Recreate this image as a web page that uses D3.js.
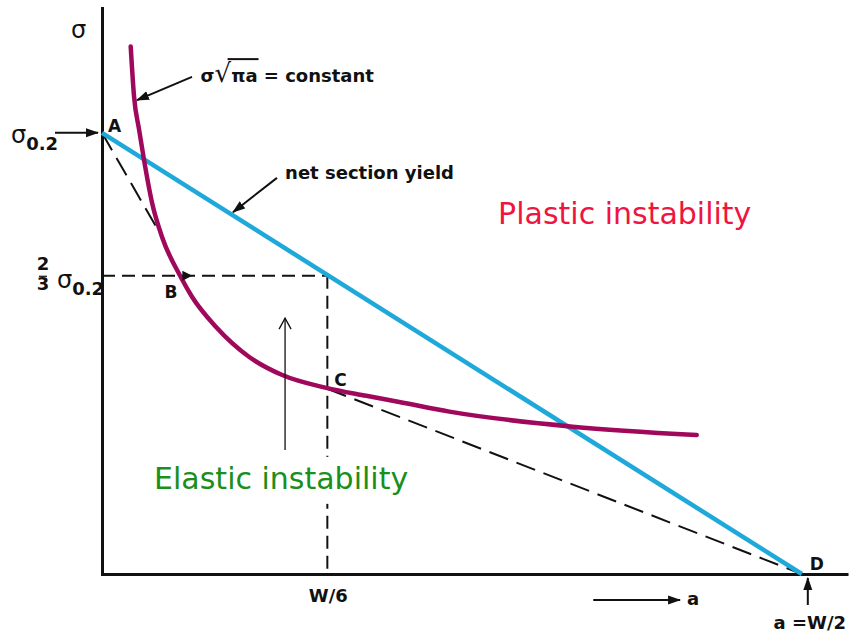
<!DOCTYPE html>
<meta charset="utf-8">
<title>Fracture stress vs crack length</title>
<style>
body { margin: 0; background: #fff; }
svg { display: block; }
.lbl { font: bold 18px "DejaVu Sans", sans-serif; fill: #111; }
.pt { font: bold 17px "DejaVu Sans", sans-serif; fill: #111; }
.sig { font: 24px "DejaVu Sans", sans-serif; fill: #111; }
.zone { font: 30px "DejaVu Sans", sans-serif; }
</style>
<svg width="850" height="633"></svg>
<script src="https://d3js.org/d3.v7.min.js"></script>
<script>

// values: a as a/W, stress as sigma/sigma0.2
var curveA = [0.0205, 0.0229, 0.0265, 0.0300, 0.0358, 0.0429, 0.0558, 0.0644, 0.0815, 0.1052, 0.1288, 0.1602, 0.1888, 0.2124, 0.2482, 0.3362, 0.4249];
var curveS = [1.196, 1.082, 1.007, 0.939, 0.841, 0.764, 0.676, 0.628, 0.560, 0.492, 0.451, 0.422, 0.404, 0.390, 0.368, 0.334, 0.315];
var yieldA = [0, 0.5];
var yieldS = [1, 0];
var pointNames = ["A", "B", "C", "D"];
var pointA = [0, 0.056, 0.161, 0.5];
var pointS = [1, 0.676, 0.42, 0];
var tangentA = [[0, 0.0429], [0.161, 0.5]];
var tangentS = [[1, 0.764], [0.42, 0]];
var aW6 = 0.161, sTwoThirds = 0.676;

var svg = d3.select("svg");

var x = d3.scaleLinear().domain([0, 0.533]).range([102, 848]);
var y = d3.scaleLinear().domain([0, 1.283]).range([574, 8]);

var defs = svg.append("defs");
defs.append("marker")
    .attr("id", "head")
    .attr("markerUnits", "userSpaceOnUse")
    .attr("markerWidth", 14).attr("markerHeight", 10)
    .attr("refX", 12).attr("refY", 5)
    .attr("orient", "auto")
  .append("path")
    .attr("d", "M0,0.5L13,5L0,9.5Z")
    .attr("fill", "#111");
defs.append("marker")
    .attr("id", "open")
    .attr("markerUnits", "userSpaceOnUse")
    .attr("markerWidth", 14).attr("markerHeight", 14)
    .attr("refX", 12).attr("refY", 7)
    .attr("orient", "auto")
  .append("path")
    .attr("d", "M1,1L12,7L1,13")
    .attr("fill", "none")
    .attr("stroke", "#111")
    .attr("stroke-width", 1.3);

// axes
svg.append("g")
    .attr("transform", "translate(0," + y(0) + ")")
    .call(d3.axisBottom(x).tickValues([]).tickSizeOuter(0))
    .select(".domain").attr("stroke", "#111").attr("stroke-width", 3);
svg.append("g")
    .attr("transform", "translate(" + x(0) + ",0)")
    .call(d3.axisLeft(y).tickValues([]).tickSizeOuter(0))
    .select(".domain").attr("stroke", "#111").attr("stroke-width", 3)
    .attr("stroke-linecap", "square");

var line = d3.line().x(function(d) { return x(d[0]); }).y(function(d) { return y(d[1]); });

// dashed construction lines
var dashes = svg.append("g").attr("fill", "none").attr("stroke", "#111").attr("stroke-width", 2);
dashes.append("path")
    .attr("d", line([[0, sTwoThirds], [aW6, sTwoThirds]]))
    .attr("stroke-dasharray", "13,7");
dashes.append("path")
    .attr("d", line([[aW6, sTwoThirds], [aW6, 0]]))
    .attr("stroke-dasharray", "13,7");
tangentA.forEach(function(t, i) {
  dashes.append("path")
      .attr("d", line(d3.zip(t, tangentS[i])))
      .attr("stroke-dasharray", "20,9");
});

// net section yield
svg.append("path")
    .attr("d", line(d3.zip(yieldA, yieldS)))
    .attr("fill", "none")
    .attr("stroke", "#1fa8da")
    .attr("stroke-width", 4.5);

// sigma sqrt(pi a) = constant
svg.append("path")
    .attr("d", d3.line().curve(d3.curveMonotoneX)
      .x(function(d) { return x(d[0]); }).y(function(d) { return y(d[1]); })(d3.zip(curveA, curveS)))
    .attr("fill", "none")
    .attr("stroke", "#a0085c")
    .attr("stroke-width", 4.5)
    .attr("stroke-linecap", "round");

// marker at B
svg.append("path")
    .attr("d", "M" + (x(pointA[1]) + 2) + "," + (y(pointS[1]) - 5) + "l10,5l-10,5z")
    .attr("fill", "#111");

// point labels
var off = [[6, -1], [-16, 22], [7, -3], [8, -4]];
svg.selectAll(".pt").data(pointNames).enter().append("text")
    .attr("class", "pt")
    .attr("x", function(d, i) { return x(pointA[i]) + off[i][0]; })
    .attr("y", function(d, i) { return y(pointS[i]) + off[i][1]; })
    .text(function(d) { return d; });

// arrows
var arrows = svg.append("g").attr("stroke", "#111").attr("fill", "none");
arrows.append("path").attr("d", line([[0.0643, 1.127], [0.025, 1.074]]))
    .attr("stroke-width", 2).attr("marker-end", "url(#head)");
arrows.append("path").attr("d", line([[0.125, 0.898], [0.0936, 0.820]]))
    .attr("stroke-width", 2).attr("marker-end", "url(#head)");
arrows.append("path").attr("d", "M" + (x(0) - 47) + "," + y(1) + "H" + (x(0) - 4))
    .attr("stroke-width", 2).attr("marker-end", "url(#head)");
arrows.append("path").attr("d", line([[0.1308, 0.281], [0.1308, 0.58]]))
    .attr("stroke-width", 1.3).attr("marker-end", "url(#open)");
arrows.append("path").attr("d", line([[0.351, -0.059], [0.413, -0.059]]))
    .attr("stroke-width", 2).attr("marker-end", "url(#head)");
arrows.append("path").attr("d", "M" + (x(0.5) + 6) + "," + (y(0) + 31) + "V" + (y(0) + 4))
    .attr("stroke-width", 2).attr("marker-end", "url(#head)");

// constant label with radical
var ct = svg.append("text").attr("class", "lbl")
    .attr("x", x(0.0704)).attr("y", y(1.115));
ct.append("tspan").text("σ");
ct.append("tspan").attr("font-size", "26px").attr("font-weight", "normal").text("√");
ct.append("tspan").text("πa");
ct.append("tspan").text(" = constant");
var cn = ct.node();
var r0 = cn.getStartPositionOfChar(1).x + 13, r1 = cn.getEndPositionOfChar(3).x + 1;
svg.append("path")
    .attr("d", "M" + r0 + "," + (y(1.115) - 23) + "H" + r1)
    .attr("stroke", "#111").attr("stroke-width", 2);

svg.append("text").attr("class", "lbl")
    .attr("x", x(0.1308)).attr("y", y(0.895))
    .text("net section yield");

svg.append("text").attr("class", "zone")
    .attr("x", x(0.283)).attr("y", y(0.793))
    .attr("fill", "#ee1540")
    .text("Plastic instability");

var el = svg.append("text").attr("class", "zone")
    .attr("x", x(0.0372)).attr("y", y(0.193))
    .attr("fill", "#1a8f1a")
    .text("Elastic instability");
var bb = el.node().getBBox();
svg.insert("rect", function() { return el.node(); })
    .attr("x", bb.x - 2).attr("y", bb.y - 4)
    .attr("width", bb.width + 4).attr("height", bb.height + 12)
    .attr("fill", "#fff");

// axis labels
svg.append("text").attr("class", "sig")
    .attr("x", 71).attr("y", 38).text("σ");

var s02 = svg.append("text").attr("class", "sig")
    .attr("x", 11).attr("y", y(1) + 10);
s02.append("tspan").text("σ");
s02.append("tspan").attr("class", "lbl").attr("font-size", "12px").attr("dy", 7).text("0.2");

// stacked 2/3 as one text
var yl = y(sTwoThirds);
var fr = svg.append("text").attr("class", "lbl").attr("font-size", "11px")
    .attr("text-anchor", "middle");
fr.append("tspan").attr("x", 43).attr("y", yl - 6).text("2");
fr.append("tspan").attr("x", 43).attr("y", yl + 14).text("3");
svg.append("path").attr("d", "M39," + (yl + 0.5) + "H47").attr("stroke", "#111").attr("stroke-width", 1.2);
var s23 = svg.append("text").attr("class", "sig")
    .attr("x", 57).attr("y", yl + 12);
s23.append("tspan").text("σ");
s23.append("tspan").attr("class", "lbl").attr("font-size", "12px").attr("dy", 7).text("0.2");

svg.append("text").attr("class", "lbl")
    .attr("x", x(aW6) + 1).attr("y", y(0) + 28)
    .attr("text-anchor", "middle").text("W/6");

svg.append("text").attr("class", "lbl")
    .attr("x", x(0.418)).attr("y", y(0) + 31).text("a");

svg.append("text").attr("class", "lbl").attr("font-size", "17px")
    .attr("x", x(0.5) + 8).attr("y", y(0) + 55)
    .attr("text-anchor", "middle").text("a =W/2");

</script>
